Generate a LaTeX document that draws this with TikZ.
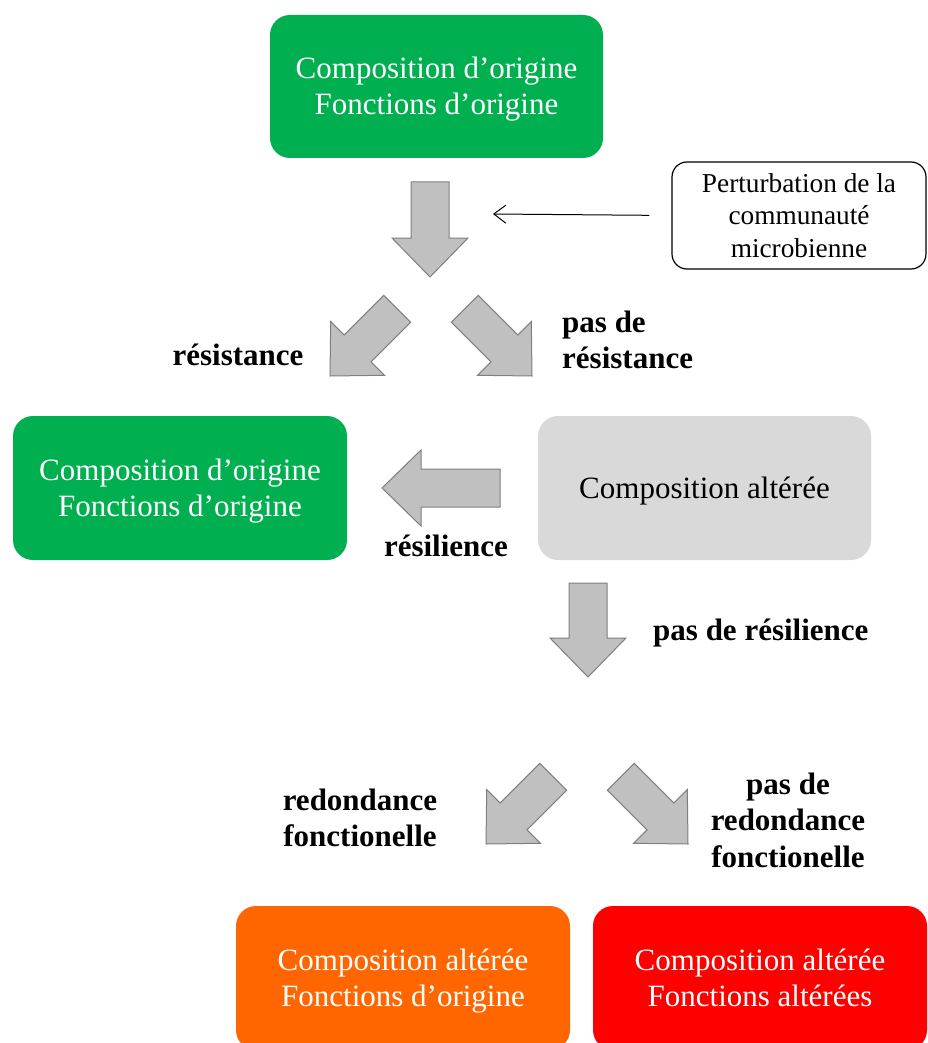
\documentclass[tikz,border=0pt]{standalone}
\usepackage{fontspec}
\setmainfont{Liberation Serif}
\usepackage{xcolor}
\usetikzlibrary{arrows.meta, positioning}
\definecolor{vert}{HTML}{00B050}
\definecolor{grisclair}{HTML}{D9D9D9}
\definecolor{grisfleche}{HTML}{C0C0C0}
\definecolor{grisbord}{HTML}{7F7F7F}
\definecolor{orange}{HTML}{FF6600}
\definecolor{rouge}{HTML}{FF0000}
\newcommand{\boxfont}{\fontsize{31}{36}\selectfont}
\newcommand{\labelfont}{\fontsize{31}{36.5}\selectfont\bfseries}
% struts: same height for every box text
\newcommand{\haut}{\rule{0pt}{28pt}}
\newcommand{\bas}{\rule[-7pt]{0pt}{7pt}}
\tikzstyle{etat} = [rectangle, rounded corners=20pt, minimum width=334pt,
                    minimum height=144pt, align=center, font=\boxfont, inner sep=0pt]
\tikzstyle{perturbbox} = [rectangle, rounded corners=15pt, minimum width=254pt,
                    minimum height=107pt, align=center, draw=black, line width=1.2pt,
                    font=\fontsize{27.3}{32.5}\selectfont, inner sep=0pt]
\tikzstyle{etiquette} = [font=\labelfont, inner sep=0pt]
\tikzstyle{fleche} = [fill=grisfleche, draw=grisbord, line width=1pt, line join=miter]
\tikzstyle{arrow} = [-{Straight Barb[length=12pt, width=18pt]}, line width=1pt]
\tikzset{pics/blocfleche/.style={code={
    \draw[fleche] (-19,-#1) -- (19,-#1) -- (19,-39) -- (38,-39) -- (0,0)
                  -- (-38,-39) -- (-19,-39) -- cycle;}}}

\begin{document}
\begin{tikzpicture}[x=1pt, y=-1pt]
    \useasboundingbox (0,0) rectangle (928,1043);
    \clip (0,0) rectangle (928,1043);

    % Etats de la communaute
    \node[etat, fill=vert, text=white, minimum width=333pt, minimum height=143pt]
        (origine) at (436.5,86.5) {\haut Composition d’origine\\Fonctions d’origine\bas};
    \node[etat, fill=vert, text=white] (resiste) at (180,488)
        {\haut Composition d’origine\\Fonctions d’origine\bas};
    \node[etat, fill=grisclair, minimum width=333pt] (alteree) at (704.5,488)
        {\haut Composition altérée\bas};
    \node[etat, fill=orange, text=white] (redondant) at (403,978)
        {\haut Composition altérée\\Fonctions d’origine\bas};
    \node[etat, fill=rouge, text=white] (perdu) at (760,978)
        {\haut Composition altérée\\Fonctions altérées\bas};

    % Perturbation
    \node[perturbbox] (perturb) at (799,215.5)
        {Perturbation de la\\communauté\\microbienne};
    \coordinate (perturbtip) at (493,214);
    \draw[arrow, shorten <=22pt] (perturb.west) -- (perturbtip);

    % Grosses fleches
    \pic at (430,277) {blocfleche=95};
    \pic[rotate=-45] at (330,376) {blocfleche=95};
    \pic[rotate=45] at (532,376) {blocfleche=95};
    \pic[rotate=-90] at (382,488) {blocfleche=118};
    \pic at (588,677) {blocfleche=94};
    \pic[rotate=-45] at (486,844) {blocfleche=95};
    \pic[rotate=45] at (688,844) {blocfleche=95};

    % Etiquettes
    \node[etiquette] (resistance) at (238,355) {résistance};
    \node[etiquette, anchor=west, align=left] (pasresistance) at (562,340)
        {pas de\\résistance};
    \node[etiquette] (resilience) at (446,546) {résilience};
    \node[etiquette, anchor=west] (pasresilience) at (653,633) {pas de résilience};
    \node[etiquette, align=center] (redondance) at (360,818)
        {redondance\\fonctionelle};
    \node[etiquette, align=center] (pasredondance) at (788,820)
        {pas de\\redondance\\fonctionelle};
\end{tikzpicture}
\end{document}
